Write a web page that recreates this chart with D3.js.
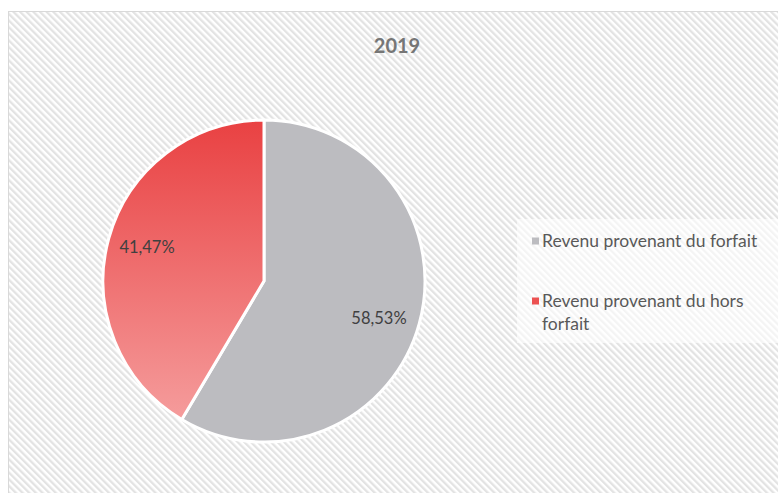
<!DOCTYPE html>
<html><head><meta charset="utf-8">
<script src="https://cdn.jsdelivr.net/npm/d3@7"></script>
<style>body{margin:0;background:#fff}svg{display:block}</style>
</head><body>
<script>
const title = "2019";
const categories = ["Revenu provenant du forfait", "Revenu provenant du hors forfait"];
const values = [58.53, 41.47];
const labels = ["58,53%", "41,47%"];
const legendLines = [["Revenu provenant du forfait"], ["Revenu provenant du hors", "forfait"]];

const W = 778, H = 493;
const svg = d3.select("body").append("svg").attr("width", W).attr("height", H);
const defs = svg.append("defs");
const pat = defs.append("pattern").attr("id", "stripes").attr("patternUnits", "userSpaceOnUse")
  .attr("width", 4.7).attr("height", 4.7).attr("patternTransform", "rotate(-45)");
pat.append("rect").attr("width", 4.7).attr("height", 4.7).attr("fill", "#ffffff");
pat.append("rect").attr("width", 2.3).attr("height", 4.7).attr("fill", "#e3e3e3");

const grad = defs.append("linearGradient").attr("id", "redgrad")
  .attr("x1", 0).attr("y1", 0).attr("x2", 0).attr("y2", 1);
grad.append("stop").attr("offset", "0%").attr("stop-color", "#e94142");
grad.append("stop").attr("offset", "100%").attr("stop-color", "#f59c9c");

// chart area
svg.append("rect").attr("x", 8.5).attr("y", 11.5).attr("width", W).attr("height", H)
  .attr("fill", "url(#stripes)").attr("stroke", "#d9d9d9").attr("stroke-width", 1);

const font = "Lato, 'Open Sans', sans-serif";
svg.append("text").attr("x", 397).attr("y", 53).attr("text-anchor", "middle")
  .attr("font-family", font).attr("font-weight", "bold").attr("font-size", 20)
  .attr("fill", "#767676").text(title);

const cx = 264, cy = 281, r = 161;
const pie = d3.pie().sort(null).value(d => d)(values);
const arc = d3.arc().innerRadius(0).outerRadius(r);
const g = svg.append("g").attr("transform", `translate(${cx},${cy})`);
const fills = ["#bcbcc0", "url(#redgrad)"];
g.selectAll("path").data(pie).join("path")
  .attr("d", arc).attr("fill", (d, i) => fills[i])
  .attr("stroke", "#fff").attr("stroke-width", 3).attr("stroke-linejoin", "round");

const lpos = [[379, 318], [147, 247]];
g.selectAll("text.lbl").data(pie).join("text").attr("class", "lbl")
  .attr("x", (d, i) => lpos[i][0] - cx).attr("y", (d, i) => lpos[i][1] - cy)
  .attr("dy", "0.35em").attr("text-anchor", "middle")
  .attr("font-family", font).attr("font-size", 16.5).attr("fill", "#404040")
  .text((d, i) => labels[i]);

// legend
svg.append("rect").attr("x", 517).attr("y", 219).attr("width", 270).attr("height", 124)
  .attr("fill", "#ffffff").attr("fill-opacity", 0.6);
const legFill = ["#bcbcc0", "#ec5252"];
const legY = [241, 301];
legendLines.forEach((lines, i) => {
  svg.append("rect").attr("x", 532).attr("y", legY[i] - 3.5).attr("width", 7).attr("height", 7)
    .attr("fill", legFill[i]);
  lines.forEach((t, j) => {
    svg.append("text").attr("x", 542).attr("y", legY[i] + j * 23).attr("dy", "0.35em")
      .attr("font-family", font).attr("font-size", 17.5).attr("fill", "#595959").text(t);
  });
});
</script>
</body></html>
